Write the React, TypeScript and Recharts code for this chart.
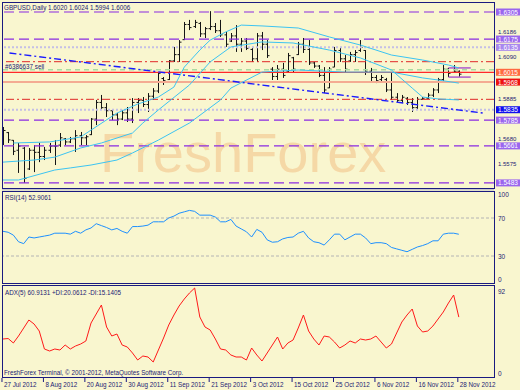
import React from "react";
import { Bar, ComposedChart, Line, ReferenceLine, XAxis, YAxis } from "recharts";

// GBPUSD daily, 27 Jul 2012 .. 28 Nov 2012 (89 bars)
const highs = [
  1.5752, 1.5728, 1.5689, 1.5675, 1.5656, 1.5651, 1.5665, 1.5675, 1.5656, 1.5675,
  1.5689, 1.5723, 1.5699, 1.5704, 1.5737, 1.5728, 1.5713, 1.5795, 1.5882, 1.5906,
  1.5867, 1.5834, 1.5819, 1.5834, 1.5848, 1.5891, 1.5891, 1.5896, 1.5915, 1.5939,
  1.6016, 1.5992, 1.6074, 1.6137, 1.617, 1.6257, 1.6267, 1.6267, 1.6257, 1.6233,
  1.6309, 1.6252, 1.6267, 1.6209, 1.6204, 1.6242, 1.618, 1.618, 1.6137, 1.6204,
  1.6209, 1.617, 1.604, 1.605, 1.606, 1.6108, 1.6089, 1.6161, 1.618, 1.617,
  1.6065, 1.605, 1.604, 1.604, 1.6137, 1.6132, 1.6098, 1.6113, 1.6122, 1.617,
  1.6122, 1.6036, 1.6002, 1.6002, 1.5988, 1.6016, 1.5915, 1.5906, 1.5896, 1.5891,
  1.5896, 1.5896, 1.5915, 1.5939, 1.5988, 1.605, 1.6036, 1.605, 1.6024,
];
const lows = [
  1.5665, 1.5675, 1.5617, 1.5531, 1.5483, 1.5545, 1.5535, 1.5583, 1.5593, 1.5627,
  1.5569, 1.5656, 1.5665, 1.5675, 1.5632, 1.5665, 1.5665, 1.5713, 1.5761, 1.5834,
  1.58, 1.5785, 1.5761, 1.5785, 1.5776, 1.5771, 1.5819, 1.5848, 1.5824, 1.5882,
  1.5915, 1.5954, 1.5978, 1.6065, 1.6065, 1.617, 1.6218, 1.6228, 1.6185, 1.618,
  1.6218, 1.6204, 1.6185, 1.6137, 1.6161, 1.6113, 1.6113, 1.6122, 1.6065, 1.6065,
  1.6122, 1.6084, 1.5978, 1.5978, 1.5988, 1.6016, 1.6016, 1.6098, 1.6108, 1.605,
  1.6036, 1.5992, 1.5915, 1.5939, 1.604, 1.6065, 1.6016, 1.6065, 1.6065, 1.6113,
  1.6002, 1.5968, 1.5963, 1.5968, 1.592, 1.5882, 1.5872, 1.5867, 1.5858, 1.5824,
  1.5834, 1.5882, 1.5887, 1.5896, 1.5915, 1.5968, 1.5992, 1.6012, 1.5994,
];
const opens = [
  1.569, 1.5725, 1.5688, 1.564, 1.565, 1.555, 1.564, 1.563, 1.561, 1.564,
  1.566, 1.5665, 1.5695, 1.568, 1.5695, 1.571, 1.57, 1.5715, 1.579, 1.587,
  1.5845, 1.583, 1.581, 1.579, 1.582, 1.579, 1.587, 1.588, 1.586, 1.59,
  1.5925, 1.5985, 1.598, 1.607, 1.61, 1.6172, 1.6245, 1.6235, 1.625, 1.62,
  1.6225, 1.6235, 1.6215, 1.6195, 1.6165, 1.619, 1.615, 1.6165, 1.6125, 1.608,
  1.619, 1.615, 1.603, 1.5995, 1.603, 1.602, 1.6085, 1.61, 1.615, 1.6125,
  1.606, 1.6045, 1.6, 1.594, 1.604, 1.612, 1.608, 1.607, 1.61, 1.612,
  1.612, 1.602, 1.599, 1.598, 1.598, 1.593, 1.5895, 1.588, 1.589, 1.587,
  1.5845, 1.5885, 1.589, 1.5905, 1.593, 1.598, 1.603, 1.6015, 1.602,
];
const closes = [
  1.5735, 1.569, 1.5635, 1.566, 1.5505, 1.564, 1.563, 1.561, 1.564, 1.566,
  1.566, 1.57, 1.568, 1.5695, 1.571, 1.57, 1.5705, 1.579, 1.587, 1.5845,
  1.583, 1.581, 1.579, 1.582, 1.579, 1.587, 1.588, 1.586, 1.59, 1.5925,
  1.601, 1.5975, 1.607, 1.61, 1.616, 1.6245, 1.623, 1.6255, 1.62, 1.6225,
  1.6235, 1.6215, 1.6195, 1.615, 1.619, 1.615, 1.6165, 1.613, 1.608, 1.619,
  1.615, 1.6095, 1.5995, 1.603, 1.6, 1.6095, 1.603, 1.615, 1.6125, 1.606,
  1.6045, 1.6, 1.593, 1.603, 1.612, 1.608, 1.603, 1.61, 1.611, 1.6135,
  1.602, 1.599, 1.5975, 1.599, 1.593, 1.5895, 1.588, 1.5895, 1.587, 1.5845,
  1.5885, 1.589, 1.5905, 1.593, 1.598, 1.603, 1.601, 1.602, 1.6006,
];

// the three cyan averages, read at a few bars
const maTopBars = [2, 9, 15, 17, 22, 26, 30, 33, 35, 38, 40, 43, 46, 50, 57, 63, 69, 75, 81, 86, 88];
const maTop = [
  1.5675, 1.568, 1.5704, 1.5737, 1.5819, 1.5862, 1.5896, 1.5944, 1.604, 1.6122, 1.617,
  1.6209, 1.6242, 1.6238, 1.6228, 1.6185, 1.6146, 1.6098, 1.6074, 1.605, 1.6036,
];
const maMidBars = [0, 6, 10, 15, 19, 25, 27, 30, 36, 40, 44, 50, 56, 63, 69, 75, 79, 81, 84, 88];
const maMid = [
  1.5583, 1.5593, 1.5607, 1.5651, 1.5675, 1.5723, 1.5771, 1.5834, 1.5954, 1.6065, 1.6137,
  1.6161, 1.6156, 1.6122, 1.6084, 1.6026, 1.5939, 1.5896, 1.5887, 1.5882,
];
const maLowBars = [0, 3, 10, 13, 17, 22, 25, 30, 36, 42, 44, 50, 57, 66, 75, 81, 84, 88];
const maLow = [
  1.5497, 1.5497, 1.5545, 1.5555, 1.5569, 1.5593, 1.5627, 1.5689, 1.5771, 1.5882, 1.5939,
  1.6016, 1.6026, 1.6016, 1.6016, 1.5988, 1.5978, 1.5963,
];

const rsi = [
  56, 55, 52, 45, 43, 50, 49, 50, 51, 52, 54, 54, 54, 53, 56, 54, 57.5, 59.5, 64, 62,
  60, 57.5, 59, 56, 54, 61, 61, 61.5, 62.5, 66, 66, 66, 70, 72, 75, 76.5, 78, 77, 73, 73,
  73, 71, 66, 66, 68.5, 61.5, 58.5, 55.5, 50, 58, 55, 47, 44.5, 45, 48, 49.5, 50, 54, 56, 49,
  45, 44, 41.5, 47, 53, 53, 47, 50, 53, 53, 49, 43, 44, 44, 43, 39, 37.5, 36, 34.5, 37,
  39.5, 41, 43, 46, 46, 53, 54, 54, 52.9,
];
const adx = [
  39, 39.5, 35, 42, 50, 58, 54, 47, 29, 27, 29, 28, 33, 29, 32, 34, 37, 55, 64, 73,
  51, 42, 44, 33, 31, 25, 18, 22, 21, 16, 28, 40, 53, 63, 72, 79, 85, 90, 61, 51,
  48, 39, 29, 28, 23, 21, 21, 18, 30, 23, 17, 25, 33, 41, 29, 35, 38, 50, 63, 47,
  39, 33, 42, 41, 36, 30, 33, 37, 35, 39, 38, 39, 42, 36, 30, 34, 45, 56, 63, 69,
  52, 46, 47, 52, 59, 66, 75, 83, 60.9,
];

const dateTickBars = [0, 8, 16, 24, 32, 40, 48, 56, 64, 72, 80, 88];
const dateTicks = [
  "27 Jul 2012", "8 Aug 2012", "20 Aug 2012", "30 Aug 2012", "11 Sep 2012", "21 Sep 2012",
  "3 Oct 2012", "15 Oct 2012", "25 Oct 2012", "6 Nov 2012", "16 Nov 2012", "28 Nov 2012",
];

const priceScale = [1.6305, 1.6186, 1.6175, 1.6135, 1.609, 1.6015, 1.5968, 1.5885, 1.5835, 1.5785, 1.568, 1.5661, 1.5575, 1.5483];
const purpleLevels = [1.6305, 1.6175, 1.5785, 1.5661, 1.5483];
const dottedLevels = [1.6135, 1.5835];
const dashDotLevels = [1.6066, 1.5885];
const orderLevel = 1.6027;
const redLevel = 1.6015;
const salmonLevel = 1.5968;
const trendFrom = { bar: 1.25, price: 1.6108 };
const trendTo = { bar: 92.6, price: 1.5819 };
const boxTop = 1.6036;
const boxBottom = 1.5992;

const BG = "#f9f6cf";
const INK = "#1c1c74";
const FRAME = "#1a1a80";
const FONT = "'Liberation Sans', Arial, sans-serif";
const CYAN = "#3cc4f2";
const PURPLE = "#8a2be2";
const X_DOMAIN: [number, number] = [-0.19, 94.79];
const PRICE_DOMAIN: [number, number] = [1.54585, 1.63531];

const boxFill: Record<string, string> = {
  "1.6305": "#9a66ee",
  "1.6175": "#9a66ee",
  "1.6135": "#a888ee",
  "1.6015": "#ff6a40",
  "1.5968": "#ee1111",
  "1.5835": "#1010ee",
  "1.5785": "#9a66ee",
  "1.5661": "#9a66ee",
  "1.5483": "#9a66ee",
};
// plain scale labels squeezed by a neighbouring box
const labelShift: Record<string, number> = { "1.6186": -5, "1.5680": -3 };

const priceRows = highs.map((h, i) => ({
  i,
  range: [lows[i], h],
  o: opens[i],
  h,
  l: lows[i],
  c: closes[i],
}));
const pairs = (bars: number[], vals: number[]) => bars.map((b, k) => ({ i: b, v: vals[k] }));
const rsiRows = rsi.map((v, i) => ({ i, v }));
const adxRows = adx.map((v, i) => ({ i, v }));

function OhlcBar(props: any) {
  const { x, y, width, height, payload } = props;
  if (!payload) return null;
  const top = Math.min(y, y + height);
  const h = Math.abs(height);
  const cx = Math.round(x + width / 2) + 0.5;
  const span = payload.h - payload.l || 1;
  const yo = top + ((payload.h - payload.o) / span) * h;
  const yc = top + ((payload.h - payload.c) / span) * h;
  return (
    <g stroke="#151515" strokeWidth={1}>
      <line x1={cx} x2={cx} y1={top} y2={top + h} />
      <line x1={cx - 2} x2={cx} y1={yo} y2={yo} />
      <line x1={cx} x2={cx + 2} y1={yc} y2={yc} />
    </g>
  );
}

function PriceTick(props: any) {
  const { y, payload } = props;
  const key = Number(payload.value).toFixed(4);
  const fill = boxFill[key];
  const dy = labelShift[key] ?? 0;
  return (
    <g>
      {fill && <rect x={496} y={y - 3.5} width={24} height={7} fill={fill} />}
      <text
        x={498}
        y={y + dy}
        dominantBaseline="central"
        fontSize={fill ? 6.5 : 6}
        fontFamily={FONT}
        fill={fill ? "#ffffff" : INK}
      >
        {key}
      </text>
    </g>
  );
}

function SideTick(props: any) {
  const { y, payload, top, bottom } = props;
  const v = payload.value;
  const dy = v === top ? 5 : v === bottom ? -5 : 0;
  return (
    <text x={498} y={y + dy} dominantBaseline="central" fontSize={6.5} fontFamily={FONT} fill={INK}>
      {v}
    </text>
  );
}

function DateTick(props: any) {
  const { x, payload } = props;
  const k = dateTickBars.indexOf(payload.value);
  return (
    <g>
      <line x1={x - 1} x2={x - 1} y1={95} y2={99} stroke={FRAME} />
      <text x={x + 1} y={101} dominantBaseline="central" fontSize={6.3} fontFamily={FONT} fill={INK}>
        {dateTicks[k]}
      </text>
    </g>
  );
}

function PricePanel() {
  return (
    <ComposedChart width={520} height={190} data={priceRows} margin={{ top: 2, right: 0, bottom: 2, left: 2 }}>
      <XAxis dataKey="i" type="number" domain={X_DOMAIN} hide allowDataOverflow />
      <YAxis
        orientation="right"
        width={26}
        type="number"
        domain={PRICE_DOMAIN}
        allowDataOverflow
        ticks={priceScale}
        interval={0}
        tick={<PriceTick />}
        tickLine={false}
        axisLine={false}
        tickSize={0}
      />
      {purpleLevels.map((v) => (
        <ReferenceLine key={"p" + v} y={v} stroke={PURPLE} strokeWidth={1.2} strokeDasharray="10 5" />
      ))}
      {dottedLevels.map((v) => (
        <ReferenceLine key={"d" + v} y={v} stroke="#c4bfe6" strokeWidth={2} strokeDasharray="2 2" />
      ))}
      {dashDotLevels.map((v) => (
        <ReferenceLine key={"r" + v} y={v} stroke="#e02828" strokeDasharray="8 3 2 3" />
      ))}
      <ReferenceLine y={orderLevel} stroke="#a8dca0" strokeWidth={1.5} strokeDasharray="5 4" />
      <ReferenceLine y={redLevel} stroke="#ff2a2a" strokeWidth={1.2} />
      <ReferenceLine y={salmonLevel} stroke="#f4ab92" strokeWidth={2} />
      <ReferenceLine
        segment={[
          { x: trendFrom.bar, y: trendFrom.price },
          { x: trendTo.bar, y: trendTo.price },
        ]}
        stroke="#1a1aff"
        strokeWidth={1.4}
        strokeDasharray="7 3 2 3"
      />
      <ReferenceLine segment={[{ x: 86, y: boxTop }, { x: 90.3, y: boxTop }]} stroke="#9932cc" strokeWidth={1.2} />
      <ReferenceLine segment={[{ x: 86, y: boxBottom }, { x: 90.3, y: boxBottom }]} stroke="#9932cc" strokeWidth={1.2} />
      <Line data={pairs(maLowBars, maLow)} dataKey="v" stroke={CYAN} strokeWidth={1} dot={false} isAnimationActive={false} />
      <Line data={pairs(maMidBars, maMid)} dataKey="v" stroke={CYAN} strokeWidth={1} dot={false} isAnimationActive={false} />
      <Line data={pairs(maTopBars, maTop)} dataKey="v" stroke={CYAN} strokeWidth={1} dot={false} isAnimationActive={false} />
      <Bar dataKey="range" barSize={3} shape={<OhlcBar />} isAnimationActive={false} />
    </ComposedChart>
  );
}

function RsiPanel() {
  return (
    <ComposedChart width={520} height={102} data={rsiRows} margin={{ top: 3.5, right: 0, bottom: 3.5, left: 2 }}>
      <XAxis dataKey="i" type="number" domain={X_DOMAIN} hide allowDataOverflow />
      <YAxis
        orientation="right"
        width={26}
        type="number"
        domain={[0, 100]}
        ticks={[0, 30, 70, 100]}
        interval={0}
        tick={<SideTick top={100} bottom={0} />}
        tickLine={false}
        axisLine={false}
      />
      <ReferenceLine y={70} stroke="#b4b4b4" strokeDasharray="3 2" />
      <ReferenceLine y={30} stroke="#b4b4b4" strokeDasharray="3 2" />
      <Line dataKey="v" stroke="#1e90ff" strokeWidth={1} dot={false} isAnimationActive={false} />
    </ComposedChart>
  );
}

function AdxPanel() {
  return (
    <ComposedChart width={520} height={107} data={adxRows} margin={{ top: 3, right: 0, bottom: 0, left: 2 }}>
      <XAxis
        dataKey="i"
        type="number"
        domain={X_DOMAIN}
        allowDataOverflow
        ticks={dateTickBars}
        interval={0}
        height={12}
        tick={<DateTick />}
        tickLine={false}
        axisLine={false}
      />
      <YAxis
        orientation="right"
        width={26}
        type="number"
        domain={[0, 92]}
        ticks={[0, 92]}
        interval={0}
        tick={<SideTick top={92} bottom={0} />}
        tickLine={false}
        axisLine={false}
      />
      <Line dataKey="v" stroke="#ff1a1a" strokeWidth={1} dot={false} isAnimationActive={false} />
    </ComposedChart>
  );
}

export default function App() {
  const label = { fontSize: 6.3, fontFamily: FONT, fill: INK, dominantBaseline: "central" as const };
  return (
    <div style={{ position: "absolute", left: 0, top: 0, width: 520, height: 390, background: BG, overflow: "hidden" }}>
      <svg width={520} height={390} style={{ position: "absolute", left: 0, top: 0 }}>
        <text x={100} y={172} fontSize={56} fontFamily={FONT} fill="#f5d8a6">
          FreshForex
        </text>
      </svg>
      <div style={{ position: "absolute", left: 0, top: 0 }}>
        <PricePanel />
      </div>
      <div style={{ position: "absolute", left: 0, top: 186 }}>
        <RsiPanel />
      </div>
      <div style={{ position: "absolute", left: 0, top: 283 }}>
        <AdxPanel />
      </div>
      <svg width={520} height={390} style={{ position: "absolute", left: 0, top: 0, pointerEvents: "none" }}>
        <line x1={2} x2={494} y1={189.5} y2={189.5} stroke="#c8c8c8" strokeWidth={2} />
        <rect x={2.5} y={2.5} width={492} height={186} fill="none" stroke={FRAME} />
        <rect x={2.5} y={191.5} width={492} height={92} fill="none" stroke={FRAME} />
        <rect x={2.5} y={285.5} width={492} height={92} fill="none" stroke={FRAME} />
        <text x={4} y={7} {...label}>GBPUSD,Daily  1.6020 1.6024 1.5994 1.6006</text>
        <text x={5} y={66.5} {...label}>#6386637 sell</text>
        <text x={5} y={197.5} {...label}>RSI(14) 52.9061</text>
        <text x={5} y={292.5} {...label}>ADX(5) 60.9131 +DI:20.0612  -DI:15.1405</text>
        <text x={4} y={372.5} {...label}>FreshForex Terminal, © 2001-2012, MetaQuotes Software Corp.</text>
      </svg>
    </div>
  );
}
